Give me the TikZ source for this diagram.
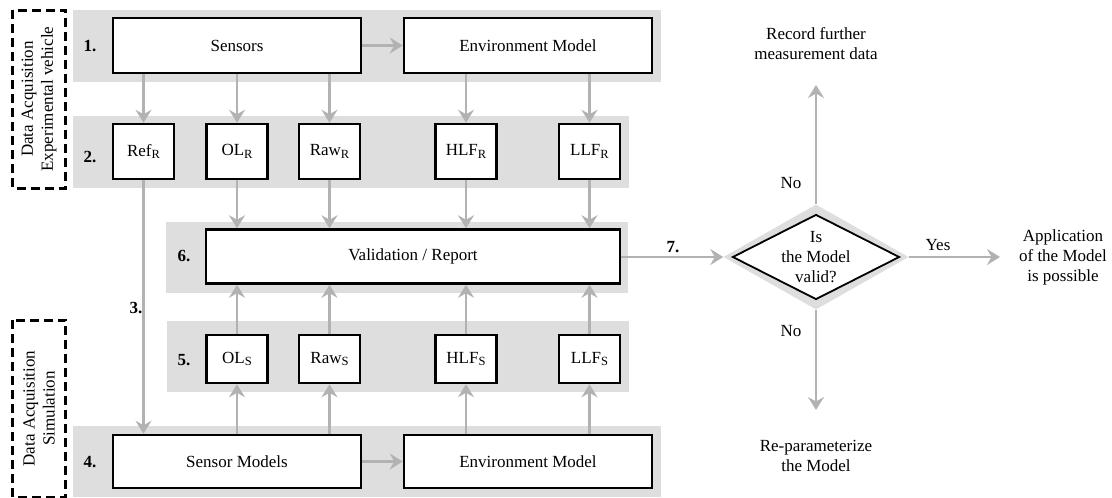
\documentclass[tikz,border=0pt]{standalone}
\usepackage{fontspec}
\setmainfont{Liberation Serif}
\usetikzlibrary{arrows.meta,shapes.geometric}
\definecolor{bandgray}{RGB}{222,222,222}
\definecolor{arrowgray}{RGB}{178,178,178}
% lowered index letter for the signal names
\newcommand{\idx}[1]{\raisebox{-2.5pt}{\fontsize{12.5}{12}\selectfont #1}}

\begin{document}
\begin{tikzpicture}[x=1pt,y=-1pt,
  font=\fontsize{17}{20}\selectfont,
  band/.style={fill=bandgray, draw=none, inner sep=0},
  box/.style={draw=black, line width=2.5pt, fill=white, inner sep=0, align=center},
  arr/.style={draw=arrowgray, line width=2.6pt,
    -{Stealth[length=13pt,width=16pt,inset=4.5pt,color=arrowgray]}},
  num/.style={font=\fontsize{17}{20}\selectfont\bfseries},
  lbl/.style={align=center, inner sep=0},
  dashbox/.style={draw=black, line width=3pt, dash pattern=on 9pt off 5pt,
    rotate=90, align=center, inner sep=0}]
\useasboundingbox (0,0) rectangle (1112,498);

% grey bands behind each stage
\node[band, minimum width=588, minimum height=72] (b1) at (367,46) {};
\node[band, minimum width=556, minimum height=72] (b2) at (351,152) {};
\node[band, minimum width=462, minimum height=71] (b6) at (397,257.5) {};
\node[band, minimum width=462, minimum height=71] (b5) at (398,356.5) {};
\node[band, minimum width=588, minimum height=71] (b4) at (367,461.5) {};

% grouping boxes on the left
\node[dashbox, minimum width=178, minimum height=53] (gveh) at (39,99)
  {Data Acquisition\\Experimental vehicle};
\node[dashbox, minimum width=177, minimum height=53] (gsim) at (39,408.5)
  {Data Acquisition\\Simulation};

% stage numbers
\node[num] (n1) at (90,46) {1.};
\node[num] (n2) at (90,157) {2.};
\node[num] (n3) at (136,308) {3.};
\node[num] (n4) at (90,462) {4.};
\node[num] (n5) at (184,360) {5.};
\node[num] (n6) at (184,256) {6.};

% stage 1
\node[box, minimum width=248, minimum height=55] (sens) at (237,45.5) {Sensors};
\node[box, minimum width=248, minimum height=55] (envr) at (528,45.5) {Environment Model};

% stage 2
\node[box, minimum width=61, minimum height=55] (ref)  at (143.5,151.5) {Ref\idx{R}};
\node[box, minimum width=61, minimum height=55] (olr)  at (237,151.5) {OL\idx{R}};
\node[box, minimum width=61, minimum height=55] (rawr) at (329.5,151.5) {Raw\idx{R}};
\node[box, minimum width=61, minimum height=55] (hlfr) at (466,151.5) {HLF\idx{R}};
\node[box, minimum width=61, minimum height=55] (llfr) at (589.5,151.5) {LLF\idx{R}};

% stage 6
\node[box, minimum width=414, minimum height=54] (val) at (413,256.5) {Validation / Report};

% stage 5
\node[box, minimum width=61, minimum height=48] (ols)  at (237,359) {OL\idx{S}};
\node[box, minimum width=61, minimum height=48] (raws) at (329.5,359) {Raw\idx{S}};
\node[box, minimum width=61, minimum height=48] (hlfs) at (466,359) {HLF\idx{S}};
\node[box, minimum width=61, minimum height=48] (llfs) at (589.5,359) {LLF\idx{S}};

% stage 4
\node[box, minimum width=248, minimum height=53] (smod) at (237,461.5) {Sensor Models};
\node[box, minimum width=248, minimum height=53] (envs) at (528,461.5) {Environment Model};

% decision
\node[diamond, fill=bandgray, inner sep=0, minimum width=185, minimum height=105] (dg) at (816,257) {};
\node[diamond, draw=black, line width=1.8pt, fill=white, inner sep=0,
      minimum width=167, minimum height=85] (dec) at (816,257) {};
\node[lbl] (dect) at (816,257) {Is\\the Model\\valid?};

% outcomes
\node[lbl] (rec) at (816,44) {Record further\\measurement data};
\node[lbl] (rep) at (816,456) {Re-parameterize\\the Model};
\node[lbl] (app) at (1063,257) {Application\\of the Model\\is possible};
\coordinate (recend) at (816,85);
\coordinate (repend) at (816,410);
\coordinate (append) at (1000,257);

% connectors
\draw[arr] (sens.east) -- (envr.west);
\draw[arr] (smod.east) -- (envs.west);

\draw[arr] (ref |- sens.south) -- (ref.north);
\draw[arr] (olr |- sens.south) -- (olr.north);
\draw[arr] (rawr |- sens.south) -- (rawr.north);
\draw[arr] (hlfr |- envr.south) -- (hlfr.north);
\draw[arr] (llfr |- envr.south) -- (llfr.north);

\draw[arr] (olr.south) -- (olr |- val.north);
\draw[arr] (rawr.south) -- (rawr |- val.north);
\draw[arr] (hlfr.south) -- (hlfr |- val.north);
\draw[arr] (llfr.south) -- (llfr |- val.north);

\draw[arr] (ref.south) -- (ref |- smod.north);

\draw[arr] (ols.north) -- (ols |- val.south);
\draw[arr] (raws.north) -- (raws |- val.south);
\draw[arr] (hlfs.north) -- (hlfs |- val.south);
\draw[arr] (llfs.north) -- (llfs |- val.south);

\draw[arr] (ols |- smod.north) -- (ols.south);
\draw[arr] (raws |- smod.north) -- (raws.south);
\draw[arr] (hlfs |- envs.north) -- (hlfs.south);
\draw[arr] (llfs |- envs.north) -- (llfs.south);

\draw[arr] (val.east |- dg.west) -- (dg.west);
\node[num] (n7) at (673,247) {7.};
\draw[arr] (dg.east) -- (append);
\node[lbl] (yes) at (938,245) {Yes};
\draw[arr] (dg.north) -- (recend);
\node[lbl] (noup) at (791,183) {No};
\draw[arr] (dg.south) -- (repend);
\node[lbl] (nodn) at (791,331) {No};
\end{tikzpicture}
\end{document}
